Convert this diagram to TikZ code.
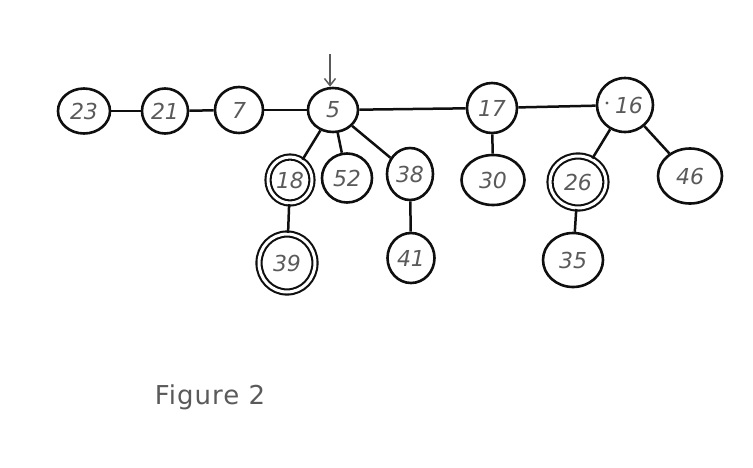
\documentclass[tikz,border=0pt]{standalone}
\usepackage{fontspec}
\newfontfamily\capfont[LetterSpace=4]{DejaVu Sans}
\newfontfamily\digfont{DejaVu Sans}
\usetikzlibrary{shapes.geometric,arrows.meta}
\definecolor{ink}{RGB}{15,15,15}
\definecolor{pencil}{RGB}{90,90,90}
\tikzset{
  hnode/.style={ellipse, draw=ink, line width=2.6pt, inner sep=0pt,
    font=\digfont\itshape\fontsize{22}{22}\selectfont, text=pencil},
  marked/.style={hnode, double=white, double distance=3pt, line width=2.1pt},
  link/.style={draw=ink, line width=2.5pt},
}
\begin{document}
\begin{tikzpicture}[x=1pt,y=-1pt]
\useasboundingbox (0,0) rectangle (753,467);
% root list
\node[hnode, minimum width=52, minimum height=45] (n23) at (84,111) {23};
\node[hnode, minimum width=46, minimum height=45] (n21) at (165,111) {21};
\node[hnode, minimum width=48, minimum height=46] (n7)  at (239,110) {7};
\node[hnode, minimum width=50, minimum height=44] (n5)  at (333,110) {5};
\node[hnode, minimum width=50, minimum height=50] (n17) at (492,108) {17};
\node[hnode, minimum width=56, minimum height=54] (n16) at (625,105) {\kern8pt 16};
% children
\node[marked, minimum width=44, minimum height=46] (n18) at (290,180) {18};
\node[hnode, minimum width=50, minimum height=49] (n52) at (347,178) {52};
\node[hnode, minimum width=46, minimum height=52] (n38) at (410,174) {38};
\node[hnode, minimum width=63, minimum height=50] (n30) at (493,180) {30};
\node[marked, minimum width=56, minimum height=52] (n26) at (578,182) {26};
\node[hnode, minimum width=64, minimum height=55] (n46) at (690,176) {46};
\node[marked, minimum width=56, minimum height=58] (n39) at (287,263) {39};
\node[hnode, minimum width=47, minimum height=50] (n41) at (411,258) {41};
\node[hnode, minimum width=60, minimum height=54] (n35) at (573,260) {35};
% stray pen dot
\fill[pencil] (607,103) circle (1.7);
% min pointer
\coordinate (ptop) at (330,54);
\draw[draw=pencil, line width=1.5pt, -{Straight Barb[length=7pt,width=11pt]}] (ptop) -- (n5.north -| ptop);
% root list links
\draw[link] (n23) -- (n21);
\draw[link] (n21) -- (n7);
\draw[link] (n7) -- (n5);
\draw[link] (n5) -- (n17);
\draw[link] (n17) -- (n16);
% tree links
\draw[link] (n5) -- (n18);
\draw[link] (n5) -- (n52);
\draw[link] (n5) -- (n38);
\draw[link] (n17) -- (n30);
\draw[link] (n16) -- (n26);
\draw[link] (n16) -- (n46);
\draw[link] (n18) -- (n39);
\draw[link] (n38) -- (n41);
\draw[link] (n26) -- (n35);
% caption
\node[font=\capfont\fontsize{26}{30}\selectfont, text=pencil] (cap) at (210,397) {Figure 2};
\end{tikzpicture}
\end{document}
